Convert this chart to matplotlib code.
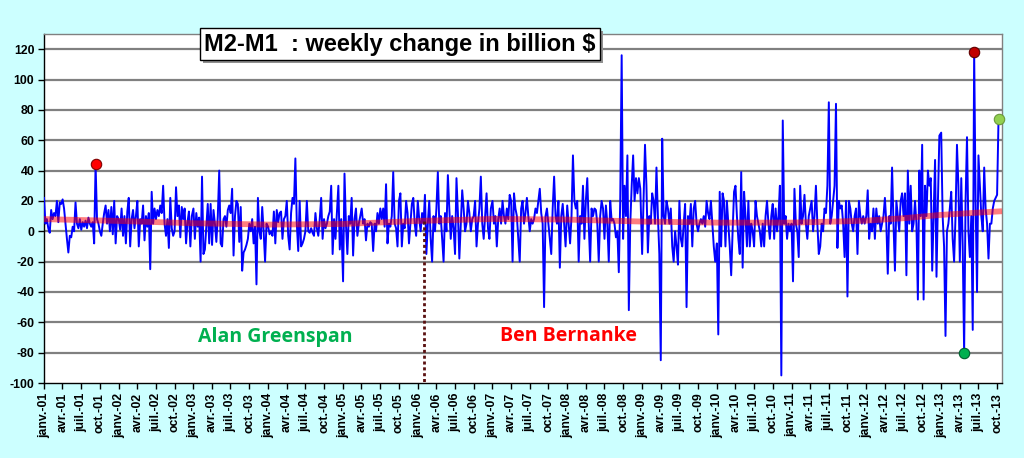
import matplotlib
matplotlib.use('Agg')
import matplotlib.pyplot as plt
from matplotlib.patches import Rectangle
import pandas as pd

# ---------------- data (weekly change, billion $) ----------------
years = list(range(2001, 2014))
chg_2001 = [22, 5, 8, 2, -1, 14, 8, 12, 10, 20, 6, 19, 18, 21, 15, 5, -5, -14, -3, -4, 3, 0, 19, 5, 2, 8,
            1, 6, 3, 7, 2, 9, 5, 3, 6, -8, 44, 8, 5, 0, -3, 5, 12, 17, 5, 14, 0, 16, -2, 20, -8, 10]
chg_2002 = [8, 1, 15, -3, 10, -8, 13, 22, -10, 8, 14, 2, 10, 20, -10, 8, 5, 17, -6, 10, 3, 12, -25, 26, 5, 15,
            8, 14, 10, 17, 12, 30, 5, -3, 8, -11, 22, 2, -3, 0, 29, 10, 17, -4, 16, 8, 15, -8, 6, 13, -10, 10]
chg_2003 = [15, -5, 12, 3, 9, -20, 36, -15, -12, 3, 18, -8, 18, -9, 14, 5, -7, 10, 40, -8, -10, 8, 10, 3, 14, 17,
            12, 28, -16, 10, 20, 18, -7, 16, -26, -14, -12, -9, -5, 5, 0, 8, -8, 3, -35, 22, 0, -5, 16, 0, -20, 5]
chg_2004 = [3, -2, 0, -3, 13, -8, 14, 6, 12, 13, -5, 8, 10, 20, -3, -12, 12, 22, 18, 48, 5, -13, 20, -10, -8, -5,
            0, 20, 0, -1, 2, -1, -3, 12, 2, -3, 8, 22, -5, 8, 2, 5, 10, 13, 30, -15, 8, -5, 12, 30, -12, 8]
chg_2005 = [-33, 38, 5, -15, 10, 5, 22, -16, 8, 15, -3, 5, 10, 15, 5, 8, -6, 5, 3, 6, 5, -13, 5, 0, 12, 5,
            15, 8, 15, 3, 31, -8, 5, 3, 10, 39, 5, 2, -10, 20, 25, -10, 5, 2, 20, 12, -8, 5, 18, 22, 5, -3]
chg_2006 = [20, 8, 0, 12, 5, 24, -15, 5, 20, -5, -20, 10, 0, 15, 39, 5, 10, -5, -20, 12, 0, 37, 15, -5, 10, 2,
            -15, 35, 12, -18, 5, 27, 15, 0, 5, 20, 12, 0, 8, 10, 20, -10, 5, 15, 36, 5, -5, 10, 25, 2, -5, 15]
chg_2007 = [20, 5, 10, -10, 8, 15, 5, 20, 10, 5, 15, 8, 24, 20, -20, 25, 15, 10, -5, -20, 15, 20, 5, 12, 22, 10,
            0, 8, 5, 8, 15, 12, 20, 28, 12, 5, -50, 10, 15, 5, -5, -15, 15, 36, 10, 5, 20, -24, 10, 18, 5, -10]
chg_2008 = [17, 5, -8, 10, 50, 20, 15, 20, -20, 10, 5, 30, -5, 20, 35, 5, -20, 15, 10, 15, 14, 5, -20, 10, 20, 15,
            -5, 17, 5, -20, 20, 7, 8, 5, -4, 0, -27, 20, 116, -5, 30, 10, 50, -52, 5, 30, 50, 20, 35, 25, 35, 28]
chg_2009 = [-15, 20, 57, 30, -14, 10, 5, 25, 20, 5, 42, 10, -15, -85, 61, 10, 5, 20, 15, 5, 15, -10, -20, 0, -10, -22,
            20, -5, -10, 5, 18, -50, 10, 5, 18, -10, 15, 20, 5, 0, 5, 8, 5, 10, 3, 20, 12, 8, 20, 5, -10, -20]
chg_2010 = [-8, -68, 26, -10, 25, 20, -10, 20, 5, -10, -29, 0, 26, 30, 10, -5, -15, 39, -24, 26, 10, -10, 20, -10, 5, 0,
            -10, 20, 10, 5, 0, -10, 5, -10, 10, 20, 5, -5, 10, 18, -5, 15, 0, 10, 30, -95, 73, 5, 10, -5, 5, 0]
chg_2011 = [5, -33, 28, 5, 0, -17, 30, 5, 10, 24, 5, -5, 10, 15, 20, 0, 10, 30, 5, -15, -10, 5, 0, 15, 12, 30,
            85, 5, 10, 20, 30, 84, -11, 20, 15, 17, 5, -17, 20, -43, 20, 15, 5, 0, 10, 15, -15, 20, 10, 5, 10, 5]
chg_2012 = [10, 27, -5, 5, 0, 15, -5, 15, 5, 10, 0, 5, 10, 22, 5, -28, 10, 5, 42, 5, -26, 20, 10, 0, 20, 25,
            10, 25, -29, 40, 5, 30, 0, 5, 20, 5, -45, 40, 10, 57, -45, 30, 10, 40, 30, 35, -26, 10, 47, -30, 20, 63]
chg_2013 = [65, 10, -10, -69, 0, 5, 15, 26, -5, -20, 10, 57, 30, -20, 35, -10, -80, 20, 62, 0, -17, 10, -65, 118,
            20, -40, 50, 30, 10, 0, 42, 15, 5, -18, 5, 5, 15, 20, 22, 24, 74]
weekly = [chg_2001, chg_2002, chg_2003, chg_2004, chg_2005, chg_2006, chg_2007,
          chg_2008, chg_2009, chg_2010, chg_2011, chg_2012, chg_2013]

# smooth trend (red band) read at dates
trend_dates = ['2001-01-01', '2002-01-01', '2003-01-01', '2004-01-01', '2005-01-01', '2006-01-01',
               '2007-01-01', '2008-01-01', '2009-01-01', '2010-01-01', '2011-01-01', '2011-09-01',
               '2012-01-01', '2012-07-01', '2012-10-01', '2013-01-01', '2013-07-01', '2013-10-25']
trend_vals = [8.0, 6.8, 5.3, 4.4, 4.8, 6.8, 8.1, 7.7, 6.4, 5.7, 5.7, 6.5, 7.0, 8.6, 9.7, 10.8, 12.3, 13.2]

month_names = ['janv.', 'avr.', 'juil.', 'oct.']
title_text = 'M2-M1  : weekly change in billion $'
label_greenspan = 'Alan Greenspan'
label_bernanke = 'Ben Bernanke'
bernanke_start = '2006-02-01'
bernanke_line_top = 7.0

# ---------------- build series ----------------
dates, values = [], []
for y, vals in zip(years, weekly):
    for w, v in enumerate(vals):
        dates.append(pd.Timestamp(y, 1, 1) + pd.Timedelta(days=7 * w))
        values.append(v)
s = pd.Series(values, index=pd.DatetimeIndex(dates))
trend = pd.Series(trend_vals, index=pd.to_datetime(trend_dates))

# ---------------- figure ----------------
BG = '#ccffff'
fig = plt.figure(figsize=(10.24, 4.58), dpi=100, facecolor=BG)
ax = fig.add_axes([44 / 1024, 1 - 383 / 458, (1002 - 44) / 1024, (383 - 34) / 458])
ax.set_facecolor('white')

ax.set_ylim(-100, 130)
ax.set_xlim(pd.Timestamp('2001-01-01'), pd.Timestamp('2013-10-25'))

yt = list(range(-100, 121, 20))
for v in yt[1:]:
    ax.axhline(v, color='#808080', lw=1.6, zorder=1)

ax.plot(s.index, s.values, color='#0000ff', lw=1.4, zorder=3)
ax.plot(trend.index, trend.values, color='#ff0000', lw=4.2, alpha=0.5, zorder=4,
        solid_capstyle='butt')

# Bernanke start marker
b_date = pd.Timestamp(bernanke_start)
ax.plot([b_date, b_date], [bernanke_line_top, -100], color='#5a1010', lw=2.0,
        linestyle=(0, (1.1, 1.0)), zorder=5, clip_on=False)

# highlighted points
def mark(year, idx, color, edge):
    d = pd.Timestamp(year, 1, 1) + pd.Timedelta(days=7 * idx)
    v = weekly[years.index(year)][idx]
    ax.plot([d], [v], 'o', ms=7.5, mfc=color, mec=edge, mew=0.8, zorder=6, clip_on=False)

mark(2001, chg_2001.index(max(chg_2001)), '#ff0000', '#800000')
mark(2013, chg_2013.index(max(chg_2013)), '#c00000', '#600000')
mark(2013, chg_2013.index(min(chg_2013)), '#00b050', '#006030')
mark(2013, len(chg_2013) - 1, '#92d050', '#6a9a3a')

# axes styling
for side in ['top', 'right']:
    ax.spines[side].set_color('#808080')
    ax.spines[side].set_linewidth(1.0)
for side in ['left', 'bottom']:
    ax.spines[side].set_color('black')
    ax.spines[side].set_linewidth(1.0)

ax.set_yticks(yt)
ax.set_yticklabels([str(v) for v in yt], fontsize=8.8, fontweight='bold', family='Liberation Sans')
ax.tick_params(axis='y', length=4, width=1, direction='out', pad=3)

qdates = pd.date_range('2001-01-01', '2013-10-01', freq='QS')
qlabels = ['%s-%02d' % (month_names[(d.month - 1) // 3], d.year % 100) for d in qdates]
ax.set_xticks(qdates)
ax.set_xticklabels(qlabels, rotation=90, fontsize=8.8, fontweight='bold', family='Liberation Sans')
ax.tick_params(axis='x', length=4, width=1, direction='out', pad=3)

# texts
ax.text(0.241, 0.132, label_greenspan, transform=ax.transAxes, ha='center', va='center',
        color='#00b050', fontsize=14, fontweight='bold', family='Open Sans')
ax.text(0.548, 0.135, label_bernanke, transform=ax.transAxes, ha='center', va='center',
        color='#ff0000', fontsize=14, fontweight='bold', family='Open Sans')

# title box with shadow
tx, ty = 399.5 / 1024, 1 - 44 / 458
title = fig.text(tx, ty, title_text, ha='center', va='center', fontsize=17,
                 fontweight='bold', family='Liberation Sans', color='black',
                 bbox=dict(boxstyle='square,pad=0.18', fc='white', ec='black', lw=1.0), zorder=10)
fig.canvas.draw()
bb = title.get_bbox_patch().get_window_extent().transformed(fig.transFigure.inverted())
fig.patches.append(Rectangle((bb.x0 + 3 / 1024, bb.y0 - 3 / 458), bb.width, bb.height,
                             transform=fig.transFigure, fc='#909090', ec='none', zorder=9))

fig.savefig('out.png', dpi=100, facecolor=BG)
